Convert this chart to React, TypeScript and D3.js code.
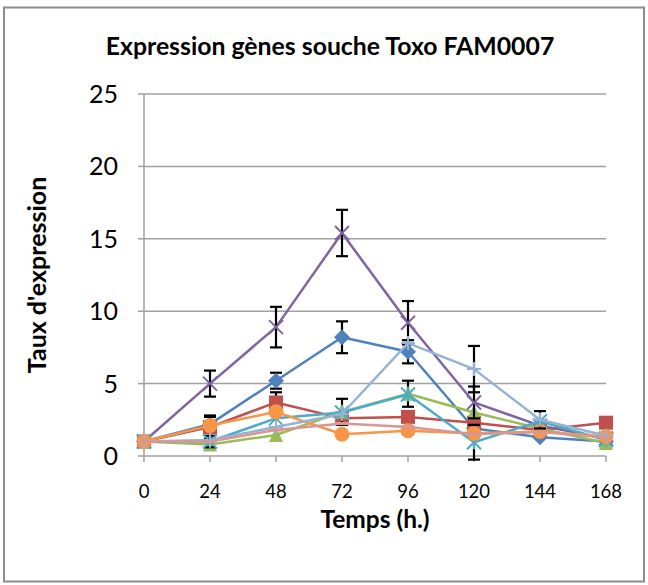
import React from "react";
import * as d3 from "d3";

const times = [0, 24, 48, 72, 96, 120, 144, 168];
const yTicks = [0, 5, 10, 15, 20, 25];

const blueVals = [1, 2.2, 5.2, 8.2, 7.2, 1.9, 1.3, 1.0];
const blueErr = [0, 0.5, 0.55, 1.1, 0.8, 0, 0, 0];
const redVals = [1, 2.0, 3.7, 2.6, 2.7, 2.3, 1.8, 2.3];
const redErr = [0, 0.8, 0.7, 0, 0, 0, 0, 0];
const greenVals = [1, 0.8, 1.45, 3.05, 4.3, 3.0, 1.9, 0.9];
const greenErr = [0, 0, 0, 0.9, 0.9, 0, 0, 0];
const purpleVals = [1, 5.0, 8.9, 15.4, 9.2, 3.7, 2.1, 1.2];
const purpleErr = [0, 0.9, 1.4, 1.6, 1.5, 1.1, 0, 0];
const tealVals = [1, 1.0, 2.6, 3.0, 4.25, 0.95, 2.4, 1.1];
const tealErr = [0, 0.4, 0, 0, 0, 1.2, 0, 0];
const orangeVals = [1, 2.1, 3.05, 1.5, 1.75, 1.55, 1.7, 1.35];
const orangeErr = [0, 0, 0, 0, 0, 0, 0, 0];
const lightBlueVals = [1, 1.1, 2.0, 2.9, 7.8, 6.0, 2.5, 1.4];
const lightBlueErr = [0, 0, 0, 0, 0, 1.6, 0.6, 0];
const pinkVals = [1, 1.0, 1.8, 2.25, 2.0, 1.5, 1.65, 1.3];
const pinkErr = [0, 0, 0, 0, 0, 0, 0, 0];

const seriesNames = ["s1", "s2", "s3", "s4", "s5", "s6", "s7", "s8"];
const seriesColors = ["#4F81BD", "#C0504D", "#9BBB59", "#8064A2", "#4BACC6", "#F79646", "#95B3D7", "#D99694"];
const seriesMarkers = ["diamond", "square", "triangle", "x", "star", "circle", "plus", "dash"];
const seriesValues = [blueVals, redVals, greenVals, purpleVals, tealVals, orangeVals, lightBlueVals, pinkVals];
const seriesErrors = [blueErr, redErr, greenErr, purpleErr, tealErr, orangeErr, lightBlueErr, pinkErr];

const W = 648;
const H = 585;
const FONT = "Lato, 'Open Sans', sans-serif";

function Marker({ type, cx, cy, color }: { type: string; cx: number; cy: number; color: string }) {
  const s = 7;
  switch (type) {
    case "diamond":
      return <path d={`M${cx},${cy - s - 1}L${cx + s + 1},${cy}L${cx},${cy + s + 1}L${cx - s - 1},${cy}Z`} fill={color} />;
    case "square":
      return <rect x={cx - s} y={cy - s} width={2 * s} height={2 * s} fill={color} />;
    case "triangle":
      return <path d={`M${cx},${cy - s - 1}L${cx + s},${cy + s}L${cx - s},${cy + s}Z`} fill={color} />;
    case "x":
      return (
        <path d={`M${cx - s},${cy - s}L${cx + s},${cy + s}M${cx - s},${cy + s}L${cx + s},${cy - s}`} stroke={color} strokeWidth={2} />
      );
    case "star":
      return (
        <path
          d={`M${cx - s},${cy - s}L${cx + s},${cy + s}M${cx - s},${cy + s}L${cx + s},${cy - s}M${cx},${cy - s}L${cx},${cy + s}`}
          stroke={color}
          strokeWidth={2}
        />
      );
    case "circle":
      return <circle cx={cx} cy={cy} r={s + 0.5} fill={color} />;
    case "plus":
      return <path d={`M${cx - s},${cy}L${cx + s},${cy}M${cx},${cy - s}L${cx},${cy + s}`} stroke={color} strokeWidth={2} />;
    case "dash":
      return <path d={`M${cx - s},${cy}L${cx + s},${cy}`} stroke={color} strokeWidth={3} />;
    default:
      return null;
  }
}

export default function App() {
  const x = d3.scaleLinear().domain([0, 168]).range([144, 606]);
  const y = d3.scaleLinear().domain([0, 25]).range([456, 94]);
  const line = d3
    .line<number>()
    .x((_, i) => x(times[i]))
    .y((v) => y(v));

  return (
    <svg width={W} height={H} style={{ position: "absolute", left: 0, top: 0, background: "#fff" }}>
      <rect x={4} y={7.5} width={640} height={574} fill="#fff" stroke="#8c8c8c" strokeWidth={2} />
      <text x={330} y={55} textAnchor="middle" fontFamily={FONT} fontWeight="bold" fontSize={24.8} fill="#000">
        Expression gènes souche Toxo FAM0007
      </text>
      {/* gridlines */}
      {yTicks
        .filter((t) => t > 0)
        .map((t) => (
          <line key={"g" + t} x1={144} x2={606} y1={y(t)} y2={y(t)} stroke="#a0a0a0" strokeWidth={1.5} />
        ))}
      {/* y axis */}
      <line x1={144} x2={144} y1={y(25)} y2={y(0)} stroke="#a0a0a0" strokeWidth={1.5} />
      {yTicks.map((t) => (
        <g key={"yt" + t}>
          <line x1={138} x2={144} y1={y(t)} y2={y(t)} stroke="#a0a0a0" strokeWidth={1.5} />
          <text x={118} y={y(t)} dy="0.36em" textAnchor="end" fontFamily={FONT} fontSize={25} fill="#000">
            {t}
          </text>
        </g>
      ))}
      {/* x axis */}
      <line x1={144} x2={606} y1={y(0)} y2={y(0)} stroke="#a0a0a0" strokeWidth={1.5} />
      {times.map((t) => (
        <g key={"xt" + t}>
          <line x1={x(t)} x2={x(t)} y1={y(0)} y2={y(0) + 6} stroke="#a0a0a0" strokeWidth={1.5} />
          <text x={x(t)} y={498} textAnchor="middle" fontFamily={FONT} fontSize={18.5} fill="#000">
            {t}
          </text>
        </g>
      ))}
      <text x={375} y={528} textAnchor="middle" fontFamily={FONT} fontWeight="bold" fontSize={24.5} fill="#000">
        Temps (h.)
      </text>
      <text
        transform={`translate(46,275) rotate(-90)`}
        textAnchor="middle"
        fontFamily={FONT}
        fontWeight="bold"
        fontSize={25}
        fill="#000"
      >
        Taux d'expression
      </text>
      {/* series */}
      {seriesNames.map((name, si) => (
        <g key={name}>
          <path d={line(seriesValues[si]) || ""} fill="none" stroke={seriesColors[si]} strokeWidth={2.5} strokeLinejoin="round" />
          {seriesValues[si].map((v, i) => {
            const e = seriesErrors[si][i];
            if (!e) return null;
            const cx = x(times[i]);
            return (
              <g key={"e" + i} stroke="#000" strokeWidth={2.2}>
                <line x1={cx} x2={cx} y1={y(v + e)} y2={y(v - e)} />
                <line x1={cx - 6} x2={cx + 6} y1={y(v + e)} y2={y(v + e)} />
                <line x1={cx - 6} x2={cx + 6} y1={y(v - e)} y2={y(v - e)} />
              </g>
            );
          })}
          {seriesValues[si].map((v, i) => (
            <Marker key={"m" + i} type={seriesMarkers[si]} cx={x(times[i])} cy={y(v)} color={seriesColors[si]} />
          ))}
        </g>
      ))}
    </svg>
  );
}
